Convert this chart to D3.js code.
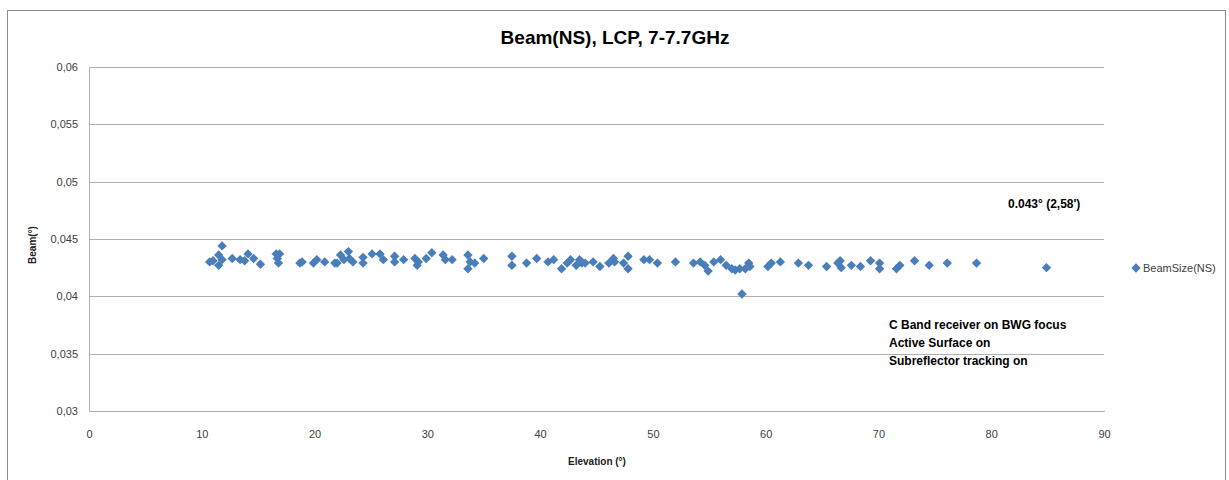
<!DOCTYPE html>
<html lang="en">

<head>
    <meta charset="utf-8">
    <title>Beam(NS), LCP, 7-7.7GHz</title>
    <script src="https://d3js.org/d3.v7.min.js"></script>
    <style type="text/css">
        body { margin: 0; background: #fff; }
        text { font-family: "Liberation Sans", Arial, sans-serif; }
    </style>
</head>

<body>
    <script type="text/javascript">

        //Width and height
        var w = 1229;
        var h = 480;

        // data
        var elevation = [10.7, 11.0, 11.5, 11.5, 11.8, 11.8, 12.7, 13.4, 13.8, 14.1, 14.6, 15.2,
            16.6, 16.8, 16.9, 16.7, 18.7, 18.9, 19.9, 20.2, 20.9, 22.0,
            21.8, 22.3, 22.6, 23.0, 23.1, 23.4, 24.3, 24.3, 25.1, 25.8, 26.1, 27.1, 27.1, 27.9,
            28.9, 29.1, 29.2, 29.9, 30.4, 31.4, 31.6, 32.2, 33.6, 33.8, 33.6, 34.2, 35.0,
            37.5, 37.5, 38.8, 39.7, 40.7, 41.2, 41.9, 42.4, 42.7, 43.2, 43.5, 44.0, 43.7,
            44.7, 45.3, 46.1, 46.5, 46.6, 47.4, 47.8, 47.8, 49.2, 49.7, 50.4, 52.0,
            53.6, 54.2, 54.6, 54.9, 55.4, 56.0, 56.5, 57.0, 57.3, 57.7, 58.2, 58.5, 58.6, 57.9,
            60.2, 60.5, 61.3, 62.9, 63.8, 65.4, 66.4,
            66.6, 66.7, 67.6, 68.4, 69.3, 70.1, 70.1, 71.6, 71.9, 73.2, 74.5, 76.1, 78.7, 84.9];

        var beamSize = [0.0430, 0.0431, 0.0436, 0.0427, 0.0444, 0.0432, 0.0433, 0.0432, 0.0431, 0.0437, 0.0433, 0.0428,
            0.0437, 0.0429, 0.0437, 0.0433, 0.0429, 0.0430, 0.0429, 0.0432, 0.0430, 0.0429,
            0.0429, 0.0436, 0.0432, 0.0439, 0.0433, 0.0430, 0.0429, 0.0434, 0.0437, 0.0437, 0.0432, 0.0435, 0.0430, 0.0432,
            0.0433, 0.0427, 0.0430, 0.0433, 0.0438, 0.0436, 0.0432, 0.0432, 0.0436, 0.0430, 0.0424, 0.0429, 0.0433,
            0.0435, 0.0427, 0.0429, 0.0433, 0.0430, 0.0432, 0.0424, 0.0429, 0.0432, 0.0427, 0.0432, 0.0429, 0.0429,
            0.0430, 0.0426, 0.0429, 0.0433, 0.0430, 0.0429, 0.0435, 0.0424, 0.0432, 0.0432, 0.0429, 0.0430,
            0.0429, 0.0430, 0.0427, 0.0422, 0.0430, 0.0432, 0.0427, 0.0424, 0.0423, 0.0424, 0.0424, 0.0429, 0.0426, 0.0402,
            0.0426, 0.0429, 0.0430, 0.0429, 0.0427, 0.0426, 0.0429,
            0.0431, 0.0425, 0.0427, 0.0426, 0.0431, 0.0429, 0.0424, 0.0424, 0.0427, 0.0431, 0.0427, 0.0429, 0.0429, 0.0425];

        var xTicks = [0, 10, 20, 30, 40, 50, 60, 70, 80, 90];
        var yTicks = [0.03, 0.035, 0.04, 0.045, 0.05, 0.055, 0.06];
        var yTickLabels = ["0,03", "0,035", "0,04", "0,045", "0,05", "0,055", "0,06"];
        var notes = ["C Band receiver on BWG focus", "Active Surface on", "Subreflector tracking on"];

        var plot = { left: 89, right: 1104, top: 67, bottom: 411 };
        var blue = "#4a7ebb";
        var grid = "#b0b0b0";

        var xScale = d3.scaleLinear()
            .domain([0, 90])
            .range([plot.left, plot.right]);

        var yScale = d3.scaleLinear()
            .domain([0.03, 0.06])
            .range([plot.bottom, plot.top]);

        //Create SVG element
        var svg = d3.select("body")
            .append("svg")
            .attr("width", w)
            .attr("height", h);

        // chart border
        svg.append("rect")
            .attr("x", 7.5)
            .attr("y", 10.5)
            .attr("width", 1218)
            .attr("height", 480)
            .attr("fill", "none")
            .attr("stroke", "#8c8c8c");

        // horizontal gridlines
        svg.append("g")
            .attr("transform", "translate(" + plot.left + ",0)")
            .call(d3.axisLeft(yScale)
                .tickValues(yTicks)
                .tickSize(-(plot.right - plot.left))
                .tickFormat(function (d, i) { return yTickLabels[i]; }))
            .call(function (g) {
                g.select(".domain").attr("stroke", grid);
                g.selectAll(".tick line").attr("stroke", grid).attr("shape-rendering", "crispEdges");
                g.selectAll(".tick text")
                    .attr("x", -11)
                    .attr("font-size", "11px")
                    .attr("font-family", "Liberation Sans, sans-serif")
                    .attr("fill", "#404040");
            });

        // x axis
        svg.append("g")
            .attr("transform", "translate(0," + plot.bottom + ")")
            .call(d3.axisBottom(xScale)
                .tickValues(xTicks)
                .tickSize(0)
                .tickFormat(d3.format("d")))
            .call(function (g) {
                g.select(".domain").attr("stroke", grid).attr("shape-rendering", "crispEdges");
                g.selectAll(".tick text")
                    .attr("y", 19)
                    .attr("font-size", "11px")
                    .attr("font-family", "Liberation Sans, sans-serif")
                    .attr("fill", "#404040");
            });

        // points
        var diamond = d3.symbol().type(d3.symbolSquare).size(44);
        svg.selectAll("path.pt")
            .data(elevation)
            .enter()
            .append("path")
            .attr("class", "pt")
            .attr("d", diamond)
            .attr("transform", function (d, i) {
                return "translate(" + xScale(d) + "," + yScale(beamSize[i]) + ") rotate(45)";
            })
            .attr("fill", blue);

        // title
        svg.append("text")
            .text("Beam(NS), LCP, 7-7.7GHz")
            .attr("x", 615)
            .attr("y", 44)
            .attr("text-anchor", "middle")
            .attr("font-size", "19px")
            .attr("font-weight", "bold")
            .attr("fill", "#000");

        // axis titles
        svg.append("text")
            .text("Elevation (°)")
            .attr("x", 597)
            .attr("y", 465)
            .attr("text-anchor", "middle")
            .attr("font-size", "10px")
            .attr("font-weight", "bold")
            .attr("fill", "#202020");

        svg.append("text")
            .text("Beam(°)")
            .attr("transform", "translate(36,245) rotate(-90)")
            .attr("text-anchor", "middle")
            .attr("font-size", "10px")
            .attr("font-weight", "bold")
            .attr("fill", "#202020");

        // annotations
        svg.append("text")
            .text("0.043° (2,58')")
            .attr("x", 1008)
            .attr("y", 208)
            .attr("font-size", "12px")
            .attr("font-weight", "bold")
            .attr("fill", "#000");

        svg.selectAll("text.note")
            .data(notes)
            .enter()
            .append("text")
            .attr("class", "note")
            .text(function (d) { return d; })
            .attr("x", 889)
            .attr("y", function (d, i) { return 329 + i * 18; })
            .attr("font-size", "12px")
            .attr("font-weight", "bold")
            .attr("fill", "#000");

        // legend
        svg.append("path")
            .attr("d", diamond)
            .attr("transform", "translate(1136,268) rotate(45)")
            .attr("fill", blue);

        svg.append("text")
            .text("BeamSize(NS)")
            .attr("x", 1143)
            .attr("y", 272)
            .attr("font-size", "11px")
            .attr("fill", "#404040");

    </script>
</body>

</html>
